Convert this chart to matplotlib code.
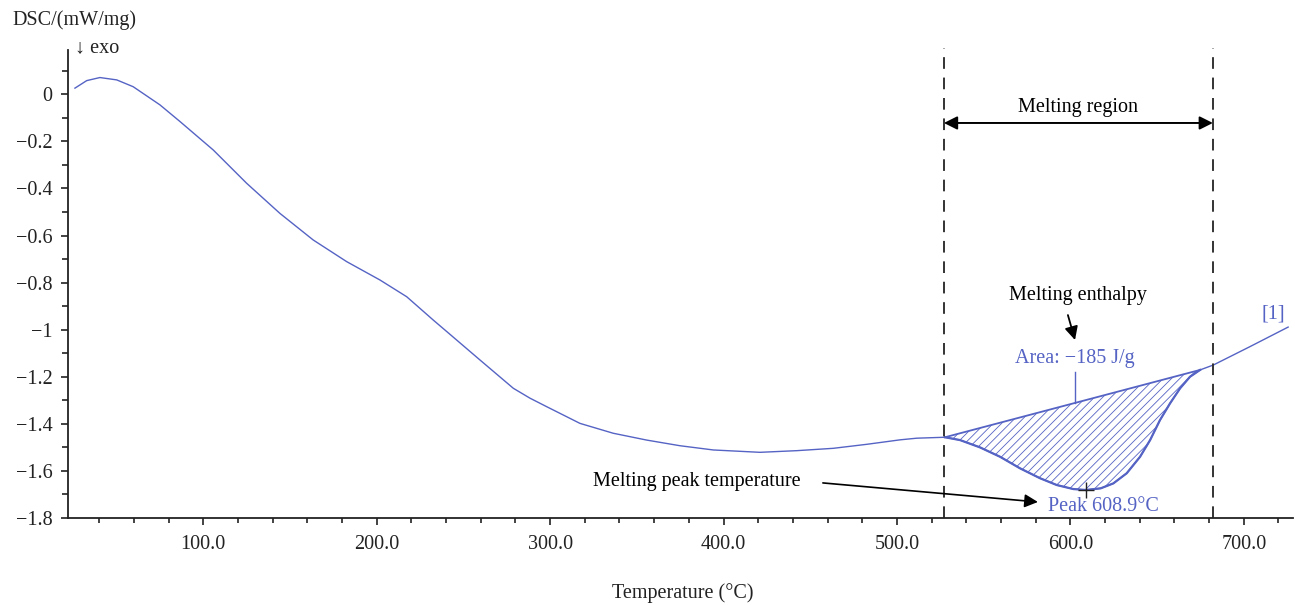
import matplotlib
matplotlib.use("Agg")
import matplotlib.pyplot as plt
from matplotlib.ticker import MultipleLocator, FuncFormatter
import numpy as np

plt.rcParams['font.family'] = ['Liberation Serif', 'DejaVu Serif']
plt.rcParams['hatch.linewidth'] = 0.6

# DSC trace, temperature in degC and heat flow in mW/mg
temperature = [26.0, 32.8, 40.4, 50.1, 59.6, 75.0, 86.6, 105.8, 125.0, 144.2,
               163.4, 182.7, 201.9, 217.3, 232.6, 240.4, 259.6, 278.8, 288.4,
               298.0, 317.2, 336.4, 355.7, 374.9, 394.1, 421.0, 442.2, 463.3,
               482.6, 501.8, 511.4, 527.7, 536.4, 547.9, 559.5, 571.0, 582.5,
               592.2, 601.7, 608.9, 617.5, 624.8, 632.5, 640.2, 646.0, 651.7,
               657.5, 663.3, 669.0, 674.8, 682.5, 703.6, 725.6]
dsc = [0.026, 0.058, 0.071, 0.061, 0.032, -0.045, -0.116, -0.237, -0.378, -0.506,
       -0.619, -0.711, -0.789, -0.860, -0.959, -1.008, -1.129, -1.249, -1.291,
       -1.327, -1.398, -1.440, -1.469, -1.493, -1.511, -1.521, -1.514, -1.504,
       -1.487, -1.468, -1.461, -1.457, -1.469, -1.500, -1.540, -1.589, -1.631,
       -1.660, -1.677, -1.681, -1.674, -1.653, -1.610, -1.540, -1.469, -1.384,
       -1.313, -1.249, -1.200, -1.171, -1.150, -1.072, -0.989]

onset_T, end_T = 527.7, 674.8      # baseline limits for peak integration
region = (527.1, 682.2)            # melting region markers
peak_T = 608.9
area = -185

blue = '#5563c4'
ink = '#222222'
fs = 14.5

fig = plt.figure(figsize=(12.95, 6.05), dpi=100)
ax = fig.add_axes([68 / 1295, 87 / 605, 1225 / 1295, 468 / 605])

T = np.array(temperature)
D = np.array(dsc)
ax.plot(T, D, color=blue, lw=1.0)

# integrated peak: straight baseline between onset and end, hatched area
m = (T >= onset_T) & (T <= end_T)
d0, d1 = np.interp([onset_T, end_T], T, D)
base = d0 + (T[m] - onset_T) / (end_T - onset_T) * (d1 - d0)
ax.fill_between(T[m], D[m], base, facecolor='none', edgecolor=blue,
                hatch='////', linewidth=0)
ax.plot(T[m], D[m], color=blue, lw=1.6)
ax.plot([onset_T, end_T], [d0, d1], color=blue, lw=1.3)
ax.plot(peak_T, np.interp(peak_T, T, D), marker='+', color=ink, ms=11, mew=1.0)

for x in region:
    ax.plot([x, x], [-1.8, 0.195], color='#333333', lw=1.4,
            dashes=(6, 4.5), clip_on=False)
ax.annotate('', xy=(region[0], -0.122), xytext=(region[1], -0.122),
            arrowprops=dict(arrowstyle='<|-|>', color='black', lw=1.4,
                            mutation_scale=20, shrinkA=0, shrinkB=0))
ax.text(sum(region) / 2, -0.055, 'Melting region', fontsize=fs,
        ha='center', va='center')

ax.text(604.4, -0.853, 'Melting enthalpy', fontsize=fs, ha='center', va='center')
ax.annotate('', xy=(602.7, -1.044), xytext=(598.6, -0.938),
            arrowprops=dict(arrowstyle='-|>', color='black', lw=1.3,
                            mutation_scale=20, shrinkA=0, shrinkB=0))

area_T = 602.7
ax.text(area_T, -1.121, 'Area: \u2212%d J/g' % abs(area), fontsize=fs,
        color=blue, ha='center', va='center')
ax.plot([area_T, area_T], [-1.181, np.interp(area_T, [onset_T, end_T], [d0, d1])],
        color=blue, lw=1.0)

ax.text(618.8, -1.753, 'Peak %.1f\u00b0C' % peak_T, fontsize=fs, color=blue,
        ha='center', va='center')
ax.text(384.7, -1.643, 'Melting peak temperature', fontsize=fs,
        ha='center', va='center')
ax.annotate('', xy=(581.3, -1.732), xytext=(457.3, -1.651),
            arrowprops=dict(arrowstyle='-|>', color='black', lw=1.2,
                            mutation_scale=20, shrinkA=0, shrinkB=0))
ax.text(716.9, -0.934, '[1]', fontsize=fs, color=blue, ha='center', va='center')

ax.set_xlim(22.0, 728.4)
ax.set_ylim(-1.8, 0.188)
for s in ('top', 'right'):
    ax.spines[s].set_visible(False)
for s in ('left', 'bottom'):
    ax.spines[s].set_color(ink)
    ax.spines[s].set_linewidth(1.3)

ax.xaxis.set_major_locator(MultipleLocator(100))
ax.xaxis.set_minor_locator(MultipleLocator(20))
ax.yaxis.set_major_locator(MultipleLocator(0.2))
ax.yaxis.set_minor_locator(MultipleLocator(0.1))
ax.xaxis.set_major_formatter(FuncFormatter(lambda v, p: '%.1f' % v))


def ylab(v, p):
    v = round(v, 2)
    if v == 0:
        return '0'
    s = ('%g' % abs(v))
    return ('\u2212' + s) if v < 0 else s


ax.yaxis.set_major_formatter(FuncFormatter(ylab))
ax.tick_params(which='both', direction='out', color=ink, width=1.2,
               labelsize=fs, labelcolor=ink)
ax.tick_params(axis='x', which='major', length=5, pad=7)
ax.tick_params(axis='x', which='minor', length=3.5)
ax.tick_params(axis='y', which='major', length=5, pad=6)
ax.tick_params(axis='y', which='minor', length=4)

fig.text(12 / 1295, 1 - 20 / 605, 'DSC/(mW/mg)', fontsize=fs, color=ink,
         ha='left', va='center')
fig.text(75 / 1295, 1 - 48 / 605, '\u2193 exo', fontsize=fs, color=ink,
         ha='left', va='center', family=['Liberation Serif', 'DejaVu Sans'])
fig.text(683 / 1295, 1 - 593 / 605, 'Temperature (\u00b0C)', fontsize=fs,
         color=ink, ha='center', va='center')

fig.savefig('out.png', dpi=100)
